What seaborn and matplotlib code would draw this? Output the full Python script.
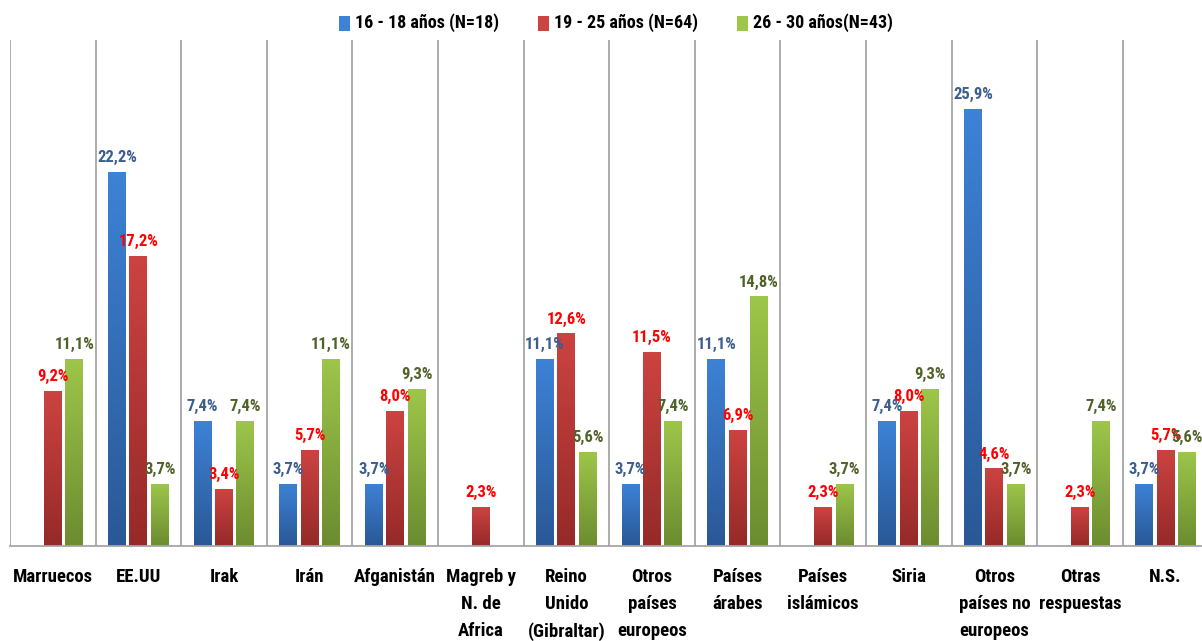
import numpy as np
import pandas as pd
import matplotlib.pyplot as plt
import seaborn as sns
from matplotlib import font_manager
from matplotlib.colors import LinearSegmentedColormap
from matplotlib.patches import Rectangle

CATEGORIES = ['Marruecos', 'EE.UU', 'Irak', 'Irán', 'Afganistán',
              'Magreb y\nN. de\nAfrica', 'Reino\nUnido\n(Gibraltar)',
              'Otros\npaíses\neuropeos', 'Países\nárabes', 'Países\nislámicos',
              'Siria', 'Otros\npaíses no\neuropeos', 'Otras\nrespuestas', 'N.S.']

SERIES = ['16 - 18 años (N=18)', '19 - 25 años (N=64)', '26 - 30 años(N=43)']

VALUES_16_18 = [np.nan, 22.2, 7.4, 3.7, 3.7, np.nan, 11.1, 3.7, 11.1, np.nan, 7.4, 25.9, np.nan, 3.7]
VALUES_19_25 = [9.2, 17.2, 3.4, 5.7, 8.0, 2.3, 12.6, 11.5, 6.9, 2.3, 8.0, 4.6, 2.3, 5.7]
VALUES_26_30 = [11.1, 3.7, 7.4, 11.1, 9.3, np.nan, 5.6, 7.4, 14.8, 3.7, 9.3, 3.7, 7.4, 5.6]

GRADS = [('#3D82D6', '#2A5896'), ('#CC4341', '#952A28'), ('#9DC64A', '#6C8C30')]
LABEL_COLORS = ['#3B5E8F', '#FF0000', '#4F6228']

installed = {f.name for f in font_manager.fontManager.ttflist}
FONT = [f for f in ['DejaVu Sans Condensed', 'Liberation Sans Narrow', 'Roboto Condensed',
                    'Open Sans Condensed', 'Liberation Sans'] if f in installed] + ['DejaVu Sans']


def main():
    sns.set_theme(style='white')
    plt.rcParams['font.family'] = FONT
    plt.rcParams['font.weight'] = 'bold'

    rows = []
    for s, vals in zip(SERIES, [VALUES_16_18, VALUES_19_25, VALUES_26_30]):
        for c, v in zip(CATEGORIES, vals):
            rows.append({'cat': c, 'serie': s, 'val': v})
    df = pd.DataFrame(rows)

    fig = plt.figure(figsize=(12.02, 6.41), dpi=100)
    ax = fig.add_axes([10 / 1202, 1 - 546 / 641, 1192 / 1202, (546 - 40) / 641])

    palette = [g[0] for g in GRADS]
    sns.barplot(data=df, x='cat', y='val', hue='serie', order=CATEGORIES,
                hue_order=SERIES, palette=palette, width=0.75, gap=0.16,
                ax=ax, legend=False, err_kws={'linewidth': 0})

    ax.set_xlim(-0.5, -0.5 + 1192 / 85.6)
    ax.set_ylim(0, 30)

    # vertical gradient inside each bar + value label
    for i, cont in enumerate(ax.containers):
        cmap = LinearSegmentedColormap.from_list('g', [GRADS[i][1], GRADS[i][0]])
        grad = np.linspace(0, 1, 100).reshape(-1, 1)
        for bar in cont:
            h = bar.get_height()
            if not np.isfinite(h) or h <= 0:
                continue
            x0, w = bar.get_x(), bar.get_width()
            im = ax.imshow(grad, extent=[x0, x0 + w, 0, h], origin='lower',
                           cmap=cmap, aspect='auto', zorder=bar.get_zorder() + 0.1)
            im.set_clip_path(bar)
            ax.text(x0 + w / 2, h + 0.4, f'{h:.1f}%'.replace('.', ','),
                    ha='center', va='bottom', fontsize=12, fontweight='bold',
                    color=LABEL_COLORS[i], family=FONT)

    for b in np.arange(-0.5, 14, 1.0):
        ax.axvline(b, color='#A6A6A6', linewidth=1.3, zorder=0)

    for sp in ['top', 'right', 'left']:
        ax.spines[sp].set_visible(False)
    ax.spines['bottom'].set_color('#A6A6A6')
    ax.spines['bottom'].set_linewidth(1.3)

    ax.set_yticks([])
    ax.set_xlabel('')
    ax.set_ylabel('')
    ax.tick_params(axis='x', length=0, pad=16)
    for lab in ax.get_xticklabels():
        lab.set_fontsize(13.5)
        lab.set_fontweight('bold')
        lab.set_linespacing(1.62)
        lab.set_va('top')
        lab.set_color('black')

    legend_items = [(339, SERIES[0]), (538, SERIES[1]), (737, SERIES[2])]
    for i, (px, name) in enumerate(legend_items):
        fig.patches.append(Rectangle((px / 1202, 1 - 31 / 641), 11 / 1202, 15 / 641,
                                     transform=fig.transFigure, facecolor=GRADS[i][0],
                                     edgecolor='none'))
        fig.text((px + 16) / 1202, 1 - 23 / 641, name, fontsize=13,
                 fontweight='bold', va='center', ha='left', color='black', family=FONT)

    fig.savefig('out.png', dpi=100)


if __name__ == '__main__':
    main()
